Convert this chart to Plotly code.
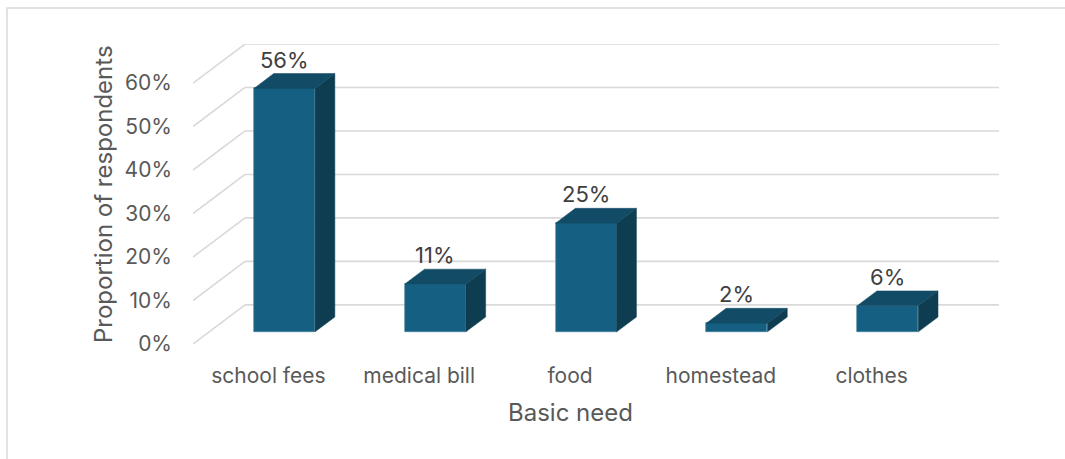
import plotly.graph_objects as go

# ---- data ----
categories = ["school fees", "medical bill", "food", "homestead", "clothes"]
values = [56, 11, 25, 2, 6]                     # percent
value_labels = ["56%", "11%", "25%", "2%", "6%"]
y_ticks = [0, 10, 20, 30, 40, 50, 60]
y_tick_labels = ["0%", "10%", "20%", "30%", "40%", "50%", "60%"]

# ---- 3D oblique projection settings (in axis units) ----
DX = 0.345     # full depth shift in category units
DY = 9.0       # full depth shift in percent units
Z0, Z1 = 0.31, 0.69   # bar depth extent
HW = 0.2025    # half bar width in category units

FRONT = "#156082"
TOP = "#124B65"
SIDE = "#0E3D51"
GRID = "#D9D9D9"
TXT = "#595959"
FONT = "Inter"

W, H = 1065, 459
ML, MR, MT, MB = 193, 66, 44, 115
PW, PH = W - ML - MR, H - MT - MB

fig = go.Figure()

n = len(categories)
shapes = []
# gridlines: side wall diagonals + back wall horizontals (drawn below traces)
for t in y_ticks:
    shapes.append(dict(type="line", xref="x", yref="y", layer="below",
                       x0=-0.5, y0=t, x1=-0.5 + DX, y1=t + DY,
                       line=dict(color=GRID, width=1.6)))
    shapes.append(dict(type="line", xref="x", yref="y", layer="below",
                       x0=-0.5 + DX, y0=t + DY, x1=n - 0.5 + DX, y1=t + DY,
                       line=dict(color=GRID, width=1.6)))

dz = (Z1 - Z0)
for i, v in enumerate(values):
    cx = i + Z0 * DX
    x0, x1 = cx - HW, cx + HW
    yb = Z0 * DY
    yt = v + Z0 * DY
    # side face
    fig.add_trace(go.Scatter(
        x=[x1, x1 + dz * DX, x1 + dz * DX, x1, x1],
        y=[yb, yb + dz * DY, yt + dz * DY, yt, yb],
        fill="toself", fillcolor=SIDE, mode="lines",
        line=dict(color=SIDE, width=0.5), hoverinfo="skip", showlegend=False))
    # top face
    fig.add_trace(go.Scatter(
        x=[x0, x1, x1 + dz * DX, x0 + dz * DX, x0],
        y=[yt, yt, yt + dz * DY, yt + dz * DY, yt],
        fill="toself", fillcolor=TOP, mode="lines",
        line=dict(color=TOP, width=0.5), hoverinfo="skip", showlegend=False))

# front faces
fig.add_trace(go.Bar(
    x=[i + Z0 * DX for i in range(n)], y=values, base=Z0 * DY,
    width=2 * HW, marker=dict(color=FRONT, line=dict(color="#3F7C97", width=0.6)),
    showlegend=False, hoverinfo="skip"))

annotations = []
for i, v in enumerate(values):
    annotations.append(dict(
        x=i + Z0 * DX, y=v + Z1 * DY, xref="x", yref="y",
        text=value_labels[i], showarrow=False, yanchor="bottom", yshift=-1,
        font=dict(family=FONT, size=22, color="#404040")))

annotations.append(dict(
    x=(570 - ML) / PW, y=(344 - 412) / PH, xref="paper", yref="paper",
    text="Basic need", showarrow=False, yanchor="middle", xanchor="center",
    font=dict(family=FONT, size=24, color=TXT)))
annotations.append(dict(
    x=(103 - ML) / PW, y=0.5, xref="paper", yref="paper",
    text="Proportion of respondents", showarrow=False, textangle=-90,
    xanchor="center", yanchor="middle",
    font=dict(family=FONT, size=24, color=TXT)))

shapes.append(dict(type="rect", xref="paper", yref="paper",
                   x0=(7 - ML) / PW, x1=(W + 5 - ML) / PW,
                   y0=-(MB + 5) / PH, y1=(H - MB - 8) / PH,
                   line=dict(color=GRID, width=1.5), layer="below"))

fig.update_layout(
    width=W, height=H,
    margin=dict(l=ML, r=MR, t=MT, b=MB),
    paper_bgcolor="white", plot_bgcolor="white",
    bargap=0, barmode="overlay",
    annotations=annotations,
    shapes=shapes,
    xaxis=dict(range=[-0.5, n - 0.5 + DX], tickmode="array",
               tickvals=list(range(n)), ticktext=categories,
               showgrid=False, zeroline=False, showline=False,
               ticks="", ticklabelstandoff=17,
               tickfont=dict(family=FONT, size=21, color=TXT)),
    yaxis=dict(range=[0, 69], tickmode="array", tickvals=y_ticks,
               ticktext=y_tick_labels, showgrid=False, zeroline=False,
               showline=False, ticks="", ticklabelstandoff=20,
               tickfont=dict(family=FONT, size=21, color=TXT)),
)

fig.write_html("out.html")
